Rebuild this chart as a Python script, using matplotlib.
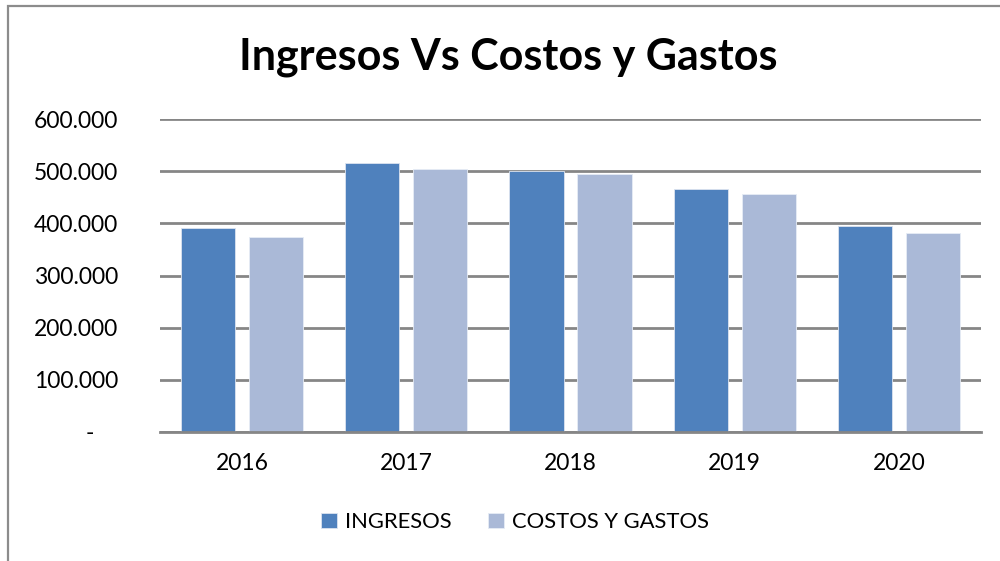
import matplotlib.pyplot as plt
import matplotlib.patches as mpatches
import numpy as np
from matplotlib.ticker import FuncFormatter

years = ['2016', '2017', '2018', '2019', '2020']
ingresos = [392000, 515000, 500000, 465000, 395000]
costos = [373000, 504000, 495000, 456000, 381000]

c_ing = '#4F81BD'
c_cos = '#AAB9D7'
grid_c = '#868686'

plt.rcParams['font.family'] = ['Lato', 'DejaVu Sans']

fig = plt.figure(figsize=(10, 5.61), dpi=100, facecolor='w')
W, H = 1000, 561
ax = fig.add_axes([160 / W, 1 - 432 / H, (981 - 160) / W, (432 - 119) / H])

# outer chart frame
fig.patches.append(mpatches.Rectangle((8 / W, -0.1), 1.2, 1 - 6 / H + 0.1,
                                      transform=fig.transFigure, fill=False,
                                      edgecolor='#8C8C8C', linewidth=1.6))

x = np.arange(len(years))
w = 0.33
off = 0.207
ax.bar(x - off, ingresos, w, color=c_ing, edgecolor='#DCE4F0', linewidth=0.6,
       label='INGRESOS', zorder=3)
ax.bar(x + off, costos, w, color=c_cos, edgecolor='#E6ECF5', linewidth=0.6,
       label='COSTOS Y GASTOS', zorder=3)

ax.set_xlim(-0.5, len(years) - 0.5)
ax.set_ylim(0, 600000)
ax.set_yticks(np.arange(0, 600001, 100000))
ax.yaxis.set_major_formatter(FuncFormatter(
    lambda v, p: '-\u00a0\u00a0\u00a0\u00a0' if v == 0 else f'{int(v):,}'.replace(',', '.')))
ax.set_xticks(x)
ax.set_xticklabels(years)
ax.tick_params(axis='both', length=0, labelsize=16.5, colors='black')
ax.tick_params(axis='y', pad=30)
ax.tick_params(axis='x', pad=15)
for lab in ax.get_yticklabels():
    lab.set_horizontalalignment('right')

ax.yaxis.grid(True, color=grid_c, linewidth=2, zorder=0)
for s in ['left', 'right', 'top']:
    ax.spines[s].set_visible(False)
ax.spines['bottom'].set_color(grid_c)
ax.spines['bottom'].set_linewidth(2)
ax.spines['bottom'].set_zorder(4)

fig.text(0.508, 1 - 57 / H, 'Ingresos Vs Costos y Gastos', ha='center', va='center',
         fontsize=31, fontweight='bold')

fig.legend(loc='center', bbox_to_anchor=(0.515, 1 - 522 / H), ncol=2, frameon=False,
           fontsize=15.8, handlelength=0.72, handleheight=0.72, handletextpad=0.35,
           columnspacing=1.7)

fig.savefig('out.png', dpi=100)
